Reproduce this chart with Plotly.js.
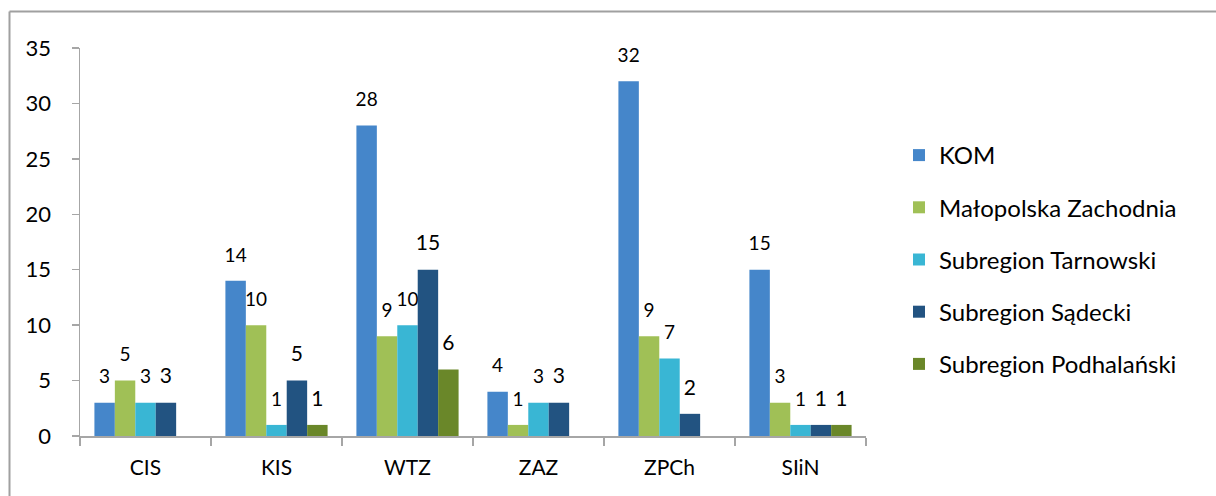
<!DOCTYPE html>
<html>
<head>
<meta charset="utf-8">
<script src="https://cdn.plot.ly/plotly-3.0.1.min.js"></script>
<style>html,body{margin:0;padding:0;background:#fff;}#chart{width:1216px;height:496px;}</style>
</head>
<body>
<div id="chart"></div>
<script>
const categories = ["CIS", "KIS", "WTZ", "ZAZ", "ZPCh", "SIiN"];
const seriesNames = ["KOM", "Małopolska Zachodnia", "Subregion Tarnowski", "Subregion Sądecki", "Subregion Podhalański"];
const kom = [3, 14, 28, 4, 32, 15];
const malopolskaZachodnia = [5, 10, 9, 1, 9, 3];
const subregionTarnowski = [3, 1, 10, 3, 7, 1];
const subregionSadecki = [3, 5, 15, 3, 2, 1];
const subregionPodhalanski = [null, 1, 6, null, null, 1];
const yTicks = [0, 5, 10, 15, 20, 25, 30, 35];

const seriesValues = [kom, malopolskaZachodnia, subregionTarnowski, subregionSadecki, subregionPodhalanski];
const colors = ["#4586ca", "#a0c056", "#39b6d4", "#225381", "#6a8729"];
const labelSizes = [19, 19, 19, 21, 21];
const FONT = "Lato, 'Open Sans', sans-serif";

const traces = seriesValues.map((vals, i) => ({
  type: "bar",
  name: seriesNames[i],
  x: categories,
  y: vals,
  legendgroup: "g" + i,
  marker: {color: colors[i], line: {width: 0}},
  text: vals.map(v => v === null ? "" : '<span style="font-size:' + labelSizes[i] + 'px">' + v + '</span><br> '),
  textposition: "outside",
  textangle: 0,
  constraintext: "none",
  cliponaxis: false,
  textfont: {family: FONT, size: 11, color: "#000"},
  hoverinfo: "x+y+name"
}));

const L = 80, R = 866, T = 48, B = 436;
const px = x => (x - L) / (R - L);
const py = y => (B - y) / (B - T);

const layout = {
  width: 1216,
  height: 496,
  margin: {l: L, r: 1216 - R, t: T, b: 496 - B, pad: 0},
  paper_bgcolor: "#fff",
  plot_bgcolor: "#fff",
  barmode: "group",
  bargap: 0.22,
  bargroupgap: 0,
  font: {family: FONT, color: "#000"},
  showlegend: true,
  legend: {
    x: px(899), xanchor: "left",
    y: py(133), yanchor: "top",
    traceorder: "grouped",
    tracegroupgap: 18,
    font: {family: FONT, size: 24, color: "#000"},
    bgcolor: "rgba(0,0,0,0)",
    itemwidth: 30
  },
  xaxis: {
    type: "category",
    showline: true, linecolor: "#a6a6a6", linewidth: 1.5,
    ticks: "outside", tickson: "boundaries", ticklen: 8, tickcolor: "#a6a6a6", tickwidth: 1.5,
    tickfont: {family: FONT, size: 21, color: "#000"},
    ticklabelstandoff: 12,
    showgrid: false, zeroline: false, fixedrange: true
  },
  yaxis: {
    range: [0, 35],
    tickvals: yTicks,
    ticktext: yTicks.map(String),
    showline: true, linecolor: "#a6a6a6", linewidth: 1.5,
    ticks: "outside", ticklen: 7, tickcolor: "#a6a6a6", tickwidth: 1.5,
    tickfont: {family: FONT, size: 22, color: "#000"},
    ticklabelstandoff: 16,
    showgrid: false, zeroline: false, fixedrange: true
  },
  shapes: [
    {type: "line", xref: "paper", yref: "paper", x0: px(9.5), x1: px(1230), y0: py(11.5), y1: py(11.5), line: {color: "#a0a0a0", width: 2}},
    {type: "line", xref: "paper", yref: "paper", x0: px(9.5), x1: px(9.5), y0: py(11.5), y1: py(510), line: {color: "#a0a0a0", width: 2}}
  ]
};

Plotly.newPlot("chart", traces, layout, {displayModeBar: false, staticPlot: true});
</script>
</body>
</html>
